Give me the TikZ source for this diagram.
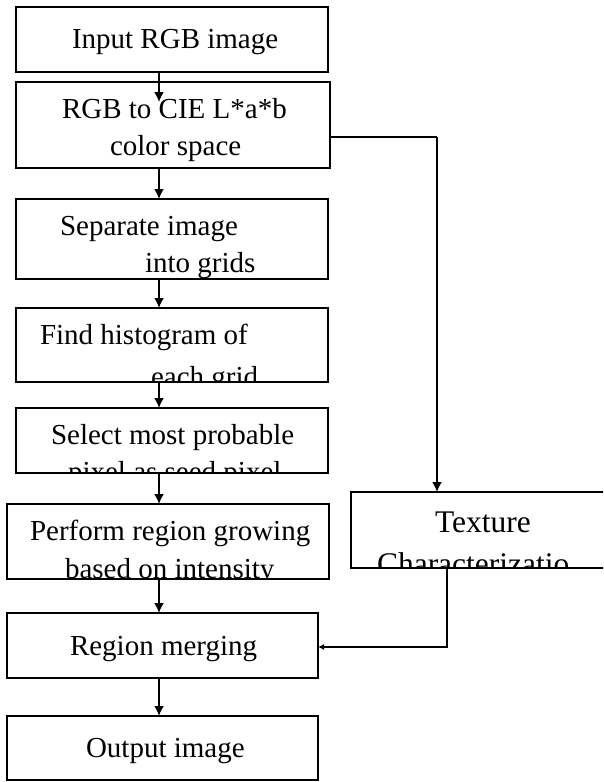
\documentclass[tikz,border=0pt]{standalone}
\usepackage{fontspec}
\setmainfont{Liberation Serif}
\usetikzlibrary{arrows.meta}
\begin{document}
\begin{tikzpicture}[x=1pt,y=-1pt,
  box/.style={draw=black,line width=1.6pt,rectangle,inner sep=0pt,outer sep=0pt},
  txt/.style={anchor=base west,inner sep=0pt,outer sep=0pt,font=\fontsize{29}{35}\selectfont},
  ttxt/.style={anchor=base west,inner sep=0pt,outer sep=0pt,font=\fontsize{31.5}{38}\selectfont},
  arr/.style={line width=1.8pt,-{Latex[length=10pt,width=10pt]}},
  arrs/.style={line width=1.5pt,-{Latex[length=6pt,width=6pt]}},
  conn/.style={line width=1.7pt}]
\clip (0,0) rectangle (603,782);
\fill[white] (0,0) rectangle (603,782);
% boxes
\node[box,minimum width=312pt,minimum height=65pt] (b1) at (172,39.5) {};
\node[box,minimum width=314pt,minimum height=86pt] (b2) at (173,125) {};
\node[box,minimum width=312pt,minimum height=80pt] (b3) at (172,239) {};
\node[box,minimum width=312pt,minimum height=74pt] (b4) at (172,345) {};
\node[box,minimum width=312pt,minimum height=65pt] (b5) at (172,440.5) {};
\node[box,minimum width=322pt,minimum height=75pt] (b6) at (168,541.5) {};
\node[box,minimum width=311pt,minimum height=65pt] (b7) at (162.5,645.5) {};
\node[box,minimum width=311pt,minimum height=64pt] (b8) at (162.5,748) {};
\node[box,minimum width=289pt,minimum height=76pt] (bt) at (495.5,530) {};
% texts (clipped to their boxes)
\begin{scope}\clip (b1.south west) rectangle (b1.north east);
\node[txt] (t1) at (72,48) {Input RGB image};
\end{scope}
\begin{scope}\clip (b2.south west) rectangle (b2.north east);
\node[txt] (t2a) at (62,118) {RGB to CIE L*a*b};
\node[txt] (t2b) at (110,155) {color space};
\end{scope}
\begin{scope}\clip (b3.south west) rectangle (b3.north east);
\node[txt] (t3a) at (60,235) {Separate image};
\node[txt] (t3b) at (145,272) {into grids};
\end{scope}
\begin{scope}\clip (b4.south west) rectangle (b4.north east);
\node[txt] (t4a) at (40,344) {Find histogram of};
\node[txt] (t4b) at (151,386) {each grid};
\end{scope}
\begin{scope}\clip (b5.south west) rectangle (b5.north east);
\node[txt] (t5a) at (51,444) {Select most probable};
\node[txt] (t5b) at (68,481) {pixel as seed pixel};
\end{scope}
\begin{scope}\clip (b6.south west) rectangle (b6.north east);
\node[txt] (t6a) at (30,540) {Perform region growing};
\node[txt] (t6b) at (65,578) {based on intensity};
\end{scope}
\begin{scope}\clip (b7.south west) rectangle (b7.north east);
\node[txt] (t7) at (70,655) {Region merging};
\end{scope}
\begin{scope}\clip (b8.south west) rectangle (b8.north east);
\node[txt] (t8) at (86,757) {Output image};
\end{scope}
\begin{scope}\clip (bt.south west) rectangle (bt.north east);
\node[ttxt] (tta) at (435,532) {Texture};
\node[ttxt] (ttb) at (377,574) {Characterizatio};
\end{scope}
% main flow arrows
\coordinate (ax) at (159,0);
\coordinate (a1end) at (159,102);
\draw[arr] (b1.south -| ax) -- (a1end);
\draw[arr] (b2.south -| ax) -- (b3.north -| ax);
\draw[arr] (b3.south -| ax) -- (b4.north -| ax);
\draw[arr] (b4.south -| ax) -- (b5.north -| ax);
\draw[arr] (b5.south -| ax) -- (b6.north -| ax);
\draw[arr] (b6.south -| ax) -- (b7.north -| ax);
\draw[arr] (b7.south -| ax) -- (b8.north -| ax);
% side branch
\coordinate (s1) at (437,137);
\draw[conn] (b2.east |- s1) -- (s1);
\draw[arr] (s1) -- (s1 |- bt.north);
\coordinate (s2) at (447,647);
\draw[arrs] (bt.south -| s2) -- (s2) -- (b7.east |- s2);
\end{tikzpicture}
\end{document}
